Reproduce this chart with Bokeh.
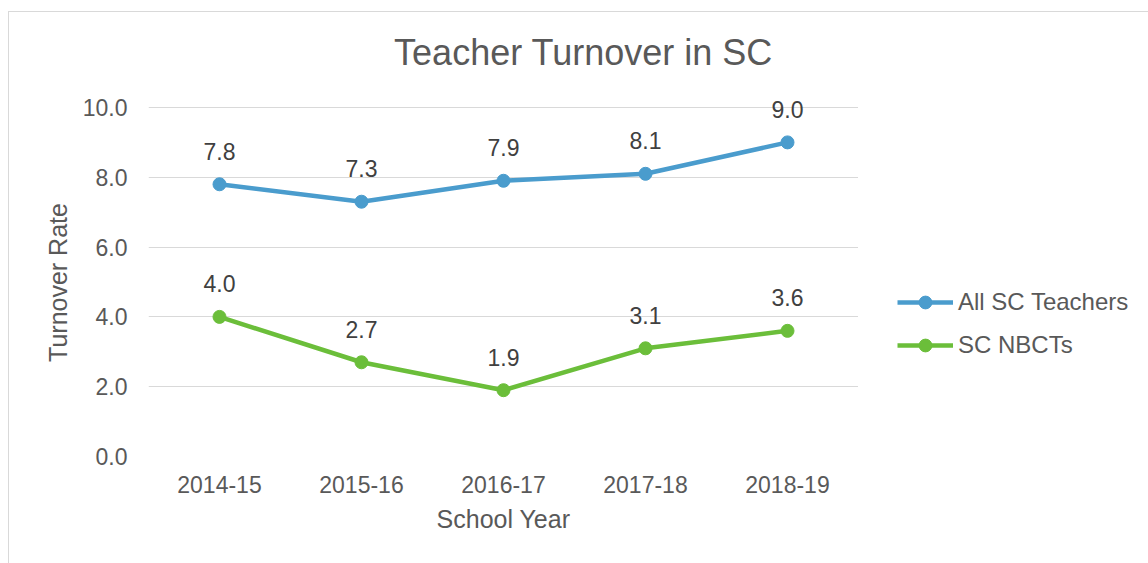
from bokeh.plotting import figure
from bokeh.layouts import column, row
from bokeh.models import (ColumnDataSource, FactorRange, Range1d, FixedTicker,
                          NumeralTickFormatter, Legend, LegendItem, Label)
from bokeh.embed import file_html
from bokeh.resources import INLINE
from bokeh.core.properties import value

years = ["2014-15", "2015-16", "2016-17", "2017-18", "2018-19"]
all_sc = [7.8, 7.3, 7.9, 8.1, 9.0]
nbct = [4.0, 2.7, 1.9, 3.1, 3.6]
series_names = ["All SC Teachers", "SC NBCTs"]
y_ticks = [0, 2, 4, 6, 8, 10]
title_text = "Teacher Turnover in SC"
x_title = "School Year"
y_title = "Turnover Rate"

BLUE = "#4a9ccd"
GREEN = "#6bbe3a"
TXT = "#595959"
GRID = "#d9d9d9"
FONT = "Liberation Sans"

TOP, BOTTOM = 3, 107   # shared borders so all frames line up

# ---- title strip ----
tf = figure(width=1139, height=70, x_range=Range1d(0, 1139), y_range=Range1d(0, 70),
            output_backend="svg", toolbar_location=None, min_border=0,
            x_axis_type=None, y_axis_type=None)
tf.outline_line_color = None
tf.add_layout(Label(x=574, y=30.5, text=title_text, text_align="center",
                    text_baseline="alphabetic", text_font=FONT,
                    text_font_size="36px", text_color=TXT))

# ---- y-axis title strip ----
yl = figure(width=70, height=481, x_range=Range1d(0, 70), y_range=Range1d(0, 371),
            output_backend="svg", toolbar_location=None, min_border_left=0,
            min_border_right=0, min_border_top=TOP, min_border_bottom=BOTTOM,
            x_axis_type=None, y_axis_type=None)
yl.outline_line_color = None
yl.add_layout(Label(x=48, y=174, text=y_title, angle=90, angle_units="deg",
                    text_align="center", text_baseline="middle", text_font=FONT,
                    text_font_size="25px", text_color=TXT))

# ---- main chart ----
p = figure(width=779, height=481, x_range=FactorRange(*years, range_padding=0),
           y_range=Range1d(0, 10.63), output_backend="svg", toolbar_location=None,
           min_border_left=69, min_border_right=0, min_border_top=TOP,
           min_border_bottom=BOTTOM)
p.outline_line_color = None

p.xgrid.grid_line_color = None
p.ygrid.grid_line_color = GRID
p.ygrid.grid_line_width = 1
p.yaxis.ticker = FixedTicker(ticks=y_ticks)
p.yaxis.formatter = NumeralTickFormatter(format="0.0")

for ax in (p.xaxis[0], p.yaxis[0]):
    ax.axis_line_color = None
    ax.major_tick_line_color = None
    ax.minor_tick_line_color = None
    ax.major_tick_out = 0
    ax.major_tick_in = 0
    ax.major_label_text_font = FONT
    ax.major_label_text_font_size = "23px"
    ax.major_label_text_color = TXT
    ax.axis_label_text_font = FONT
    ax.axis_label_text_font_size = "25px"
    ax.axis_label_text_font_style = "normal"
    ax.axis_label_text_color = TXT

p.xaxis.axis_label = x_title
p.yaxis.major_label_standoff = 21
p.xaxis.major_label_standoff = 19
p.xaxis.axis_label_standoff = 9

src = ColumnDataSource(dict(x=years, a=all_sc, b=nbct,
                            al=[f"{v:.1f}" for v in all_sc],
                            bl=[f"{v:.1f}" for v in nbct]))

# ---- legend panel (its own sample glyphs fall outside its frame) ----
lg = figure(width=290, height=481, x_range=FactorRange(*years),
            y_range=Range1d(-2, -1), output_backend="svg", toolbar_location=None,
            min_border_left=0, min_border_right=0, min_border_top=TOP,
            min_border_bottom=BOTTOM, x_axis_type=None, y_axis_type=None)
lg.outline_line_color = None
lg.grid.visible = False

items = []
for col, lab, color, name in (("a", "al", BLUE, series_names[0]),
                              ("b", "bl", GREEN, series_names[1])):
    p.line("x", col, source=src, line_color=color, line_width=4.5)
    p.scatter("x", col, source=src, size=13, fill_color=color, line_color=color)
    p.text("x", col, text=lab, source=src, text_align="center",
           text_baseline="alphabetic", y_offset=-33, text_color="#404040",
           text_font=value(FONT), text_font_size="23px")
    kl = lg.line("x", col, source=src, line_color=color, line_width=4.5)
    ks = lg.scatter("x", col, source=src, size=13, fill_color=color, line_color=color)
    items.append(LegendItem(label=name, renderers=[kl, ks]))

legend = Legend(items=items, location=(39, 95), orientation="vertical",
                glyph_width=56, glyph_height=32, label_height=32,
                spacing=11, padding=0, margin=0, label_standoff=5,
                border_line_color=None, background_fill_alpha=0,
                label_text_font=FONT, label_text_font_size="24px",
                label_text_color=TXT)
lg.add_layout(legend, "center")

layout = column(tf, row(yl, p, lg, spacing=0), spacing=0)
layout.margin = (11, 0, 0, 8)
layout.styles = {"border-left": "1px solid #d9d9d9", "border-top": "1px solid #d9d9d9"}

open("out.html", "w").write(file_html(layout, INLINE))
